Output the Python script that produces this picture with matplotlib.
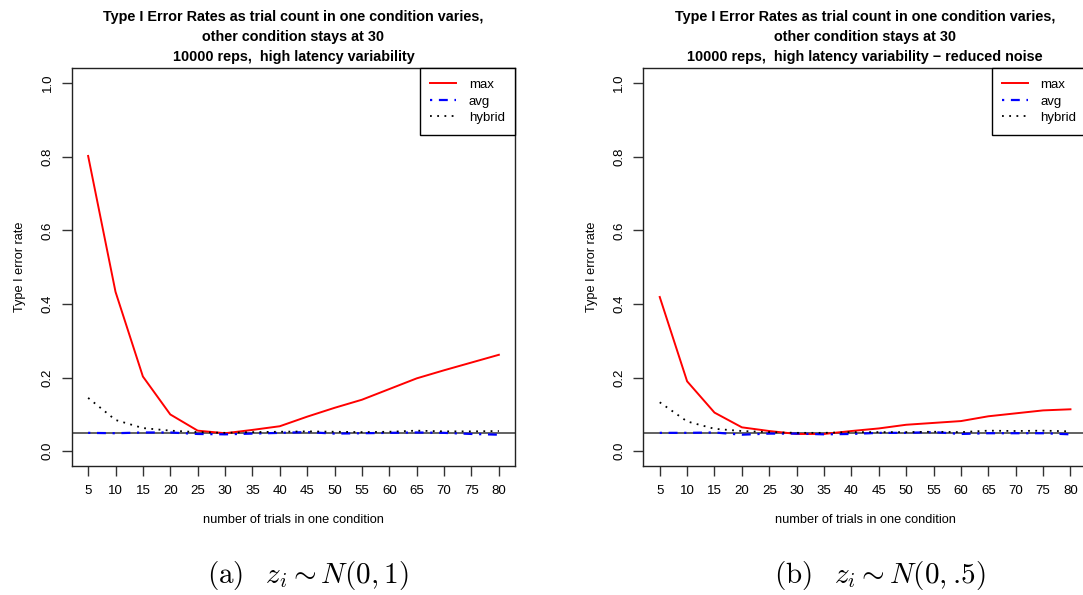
import matplotlib
matplotlib.use("Agg")
import matplotlib.pyplot as plt

plt.rcParams['font.family'] = ['Liberation Sans', 'DejaVu Sans']
plt.rcParams['mathtext.fontset'] = 'cm'

trials = [5, 10, 15, 20, 25, 30, 35, 40, 45, 50, 55, 60, 65, 70, 75, 80]

max_a = [0.802, 0.433, 0.203, 0.100, 0.056, 0.049, 0.058, 0.068, 0.094, 0.118,
         0.140, 0.169, 0.198, 0.220, 0.241, 0.262]
avg_a = [0.050, 0.049, 0.051, 0.051, 0.047, 0.046, 0.048, 0.050, 0.052, 0.048,
         0.049, 0.050, 0.051, 0.050, 0.047, 0.045]
hyb_a = [0.145, 0.085, 0.063, 0.056, 0.052, 0.050, 0.052, 0.053, 0.054, 0.053,
         0.052, 0.053, 0.056, 0.054, 0.054, 0.055]

max_b = [0.419, 0.190, 0.105, 0.065, 0.055, 0.047, 0.047, 0.055, 0.062, 0.072,
         0.077, 0.082, 0.095, 0.103, 0.111, 0.114]
avg_b = [0.050, 0.050, 0.051, 0.045, 0.048, 0.048, 0.046, 0.047, 0.050, 0.050,
         0.052, 0.047, 0.049, 0.049, 0.049, 0.046]
hyb_b = [0.133, 0.081, 0.061, 0.055, 0.052, 0.050, 0.050, 0.052, 0.052, 0.052,
         0.053, 0.052, 0.056, 0.055, 0.056, 0.054]

alpha_level = 0.05
yticks = [0.0, 0.2, 0.4, 0.6, 0.8, 1.0]

title_base = ("Type I Error Rates as trial count in one condition varies,\n"
              "other condition stays at 30\n")
titles = [title_base + "10000 reps,  high latency variability",
          title_base + "10000 reps,  high latency variability \u2212 reduced noise"]
captions = [r"$\mathrm{(a)}\ \ \,z_i \sim N(0,1)$",
            r"$\mathrm{(b)}\ \ \,z_i \sim N(0,.\!5)$"]
caption_x = [307.5 / 1083, 880 / 1083]

W, H = 1083, 595
fig = plt.figure(figsize=(W / 100, H / 100), dpi=100)

panels = [(max_a, avg_a, hyb_a), (max_b, avg_b, hyb_b)]
lefts = [71.7, 643.3]

for i, (mx, av, hy) in enumerate(panels):
    ax = fig.add_axes([lefts[i] / W, (H - 466) / H, 443.6 / W, (466 - 68.3) / H])
    ax.axhline(alpha_level, color='#555555', lw=1.3, zorder=1)
    ax.plot(trials, mx, color='red', lw=1.4, label='max', zorder=3)
    ax.plot(trials, av, color='blue', lw=1.6, dashes=(1, 3, 4, 3), label='avg', zorder=3)
    ax.plot(trials, hy, color='black', lw=1.3, dashes=(1, 3), label='hybrid', zorder=3)

    ax.set_xlim(2, 83)
    ax.set_ylim(-0.04, 1.04)
    ax.set_xticks(trials)
    ax.set_xticklabels([str(t) for t in trials])
    ax.set_yticks(yticks)
    ax.set_yticklabels([f"{v:.1f}" for v in yticks], rotation=90, va='center')
    ax.tick_params(axis='both', direction='out', length=7, width=1, labelsize=9.5,
                   color='#333333')
    ax.tick_params(axis='x', pad=7)
    ax.tick_params(axis='y', pad=6)
    for s in ax.spines.values():
        s.set_linewidth(1.0)
        s.set_color('#222222')

    ax.set_xlabel("number of trials in one condition", fontsize=9.2, labelpad=12)
    ax.set_ylabel("Type I error rate", fontsize=9.2, labelpad=11)
    ax.set_title(titles[i], fontsize=10.4, fontweight='bold', linespacing=1.55, pad=5)

    leg = ax.legend(loc='upper right', bbox_to_anchor=(1.0, 1.0), borderaxespad=0,
                    fontsize=9.5, fancybox=False, framealpha=1, edgecolor='black',
                    handlelength=1.95, handletextpad=0.95, labelspacing=0.32,
                    borderpad=0.8)
    leg.get_frame().set_linewidth(1.0)

    fig.text(caption_x[i], (H - 576) / H, captions[i], fontsize=21,
             ha='center', va='center')

fig.savefig("out.png", dpi=100)
